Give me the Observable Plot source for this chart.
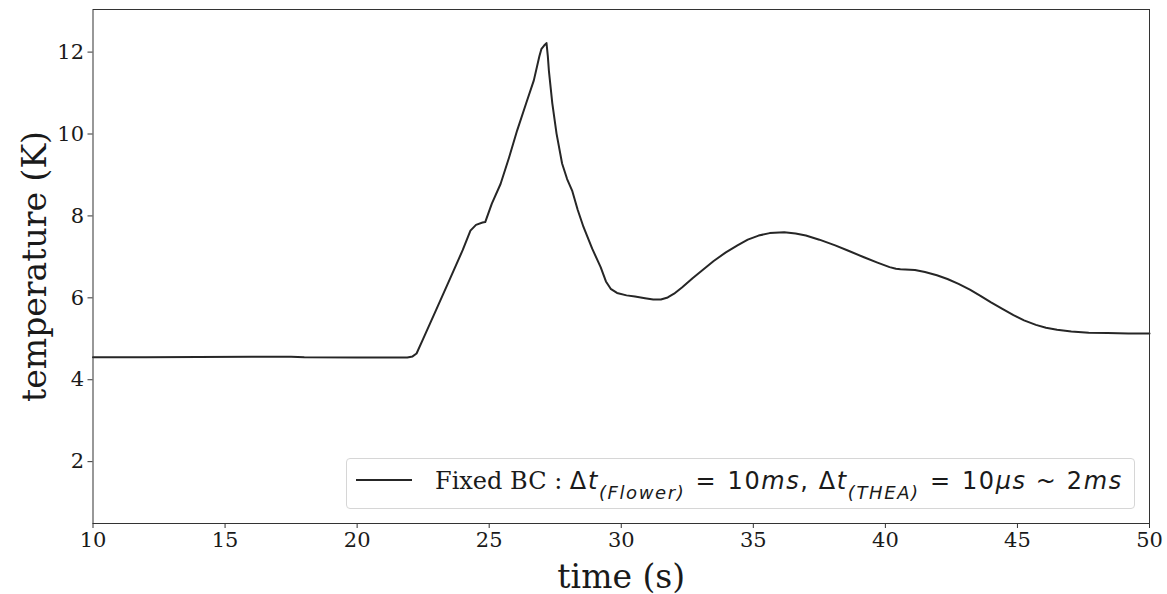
<!DOCTYPE html>
<html>
<head>
<meta charset="utf-8">
<script src="https://cdn.jsdelivr.net/npm/d3@7"></script>
<script src="https://cdn.jsdelivr.net/npm/@observablehq/plot@0.6"></script>
<style>
  html, body { margin: 0; padding: 0; background: #fff; }
  #wrap { position: relative; width: 1167px; height: 594px; }
  #legend {
    position: absolute; left: 346px; top: 458px; width: 789px; height: 51px;
    border: 1px solid #d6d6d6; border-radius: 4px; background: rgba(255,255,255,0.8);
    box-sizing: border-box;
  }
  #legend .swatch { position: absolute; left: 9px; top: 20px; width: 56px; height: 2px; background: #262626; }
  #legend .txt {
    position: absolute; left: 88px; top: 10px; white-space: nowrap; line-height: 1;
    font-size: 24px; color: #1a1a1a; font-family: "DejaVu Serif", serif;
  }
  #legend .m { font-family: "DejaVu Sans", sans-serif; letter-spacing: 1.6px; }
  #legend i { font-style: italic; }
  #legend sub { font-size: 18px; vertical-align: -10px; line-height: 0; }
  #legend .rel { margin: 0 1px; }
</style>
</head>
<body>
<div id="wrap"></div>
<script>
// time (s)
const times = [10, 12, 14, 16, 17.5, 18, 20, 21.9, 22.1, 22.25, 22.5, 23.0, 23.54, 24.0, 24.29, 24.5, 24.75, 24.85,
  25.1, 25.43, 25.75, 26.06, 26.4, 26.69, 26.9, 26.98, 27.08, 27.17, 27.22, 27.26, 27.39, 27.55, 27.76, 27.95,
  28.14, 28.35, 28.57, 28.9, 29.22, 29.42, 29.6, 29.84, 30.2, 30.52, 30.9, 31.21, 31.5, 31.76, 32.0, 32.31, 32.7,
  33.14, 33.5, 33.96, 34.4, 34.79, 35.2, 35.62, 36.17, 36.6, 36.99, 37.5, 38.1, 38.6, 39.19, 39.7, 40.16, 40.4,
  40.57, 41.12, 41.5, 41.95, 42.35, 42.77, 43.2, 43.6, 44.0, 44.43, 44.85, 45.25, 45.7, 46.08, 46.5, 47.04, 47.7,
  48.41, 49.2, 50];
// temperature (K)
const temps = [4.55, 4.55, 4.555, 4.56, 4.56, 4.55, 4.545, 4.545, 4.57, 4.64, 5.0, 5.72, 6.5, 7.17, 7.64, 7.78, 7.84, 7.85,
  8.3, 8.78, 9.42, 10.09, 10.75, 11.31, 11.9, 12.08, 12.16, 12.22, 11.9, 11.55, 10.75, 10.01, 9.28, 8.9,
  8.62, 8.15, 7.73, 7.2, 6.75, 6.4, 6.22, 6.12, 6.06, 6.03, 5.99, 5.96, 5.96, 6.01, 6.1, 6.26, 6.48,
  6.71, 6.9, 7.11, 7.28, 7.42, 7.52, 7.58, 7.6, 7.57, 7.52, 7.42, 7.28, 7.15, 6.99, 6.86, 6.75, 6.71,
  6.7, 6.68, 6.63, 6.55, 6.46, 6.34, 6.2, 6.05, 5.89, 5.73, 5.58, 5.45, 5.34, 5.27, 5.22, 5.18, 5.15,
  5.14, 5.13, 5.13];
const xTicks = [10, 15, 20, 25, 30, 35, 40, 45, 50];
const yTicks = [2, 4, 6, 8, 10, 12];
const xLabel = "time (s)";
const yLabel = "temperature (K)";

const data = times.map((t, i) => ({t, T: temps[i]}));

const plot = Plot.plot({
  width: 1167,
  height: 594,
  marginLeft: 92.5,
  marginRight: 18,
  marginTop: 9,
  marginBottom: 71,
  style: {fontFamily: "DejaVu Serif", fontSize: "21px", color: "#1a1a1a", background: "#fff"},
  x: {domain: [10, 50]},
  y: {domain: [0.49, 13.04]},
  marks: [
    Plot.axisX(xTicks, {tickSize: 5, tickPadding: 4, label: null, stroke: "#333", fontSize: 21}),
    Plot.axisY(yTicks, {tickSize: 5, tickPadding: 4, label: null, stroke: "#333", fontSize: 21}),
    Plot.line(data, {x: "t", y: "T", stroke: "#262626", strokeWidth: 2}),
    Plot.frame({stroke: "#333", strokeWidth: 1}),
    Plot.text([xLabel], {frameAnchor: "bottom", lineAnchor: "bottom", dy: 64, fontSize: 33, fill: "#1a1a1a"}),
    Plot.text([yLabel], {frameAnchor: "left", textAnchor: "middle", lineAnchor: "middle", dx: -57.5, rotate: -90, fontSize: 33, fill: "#1a1a1a"})
  ]
});
const wrap = document.getElementById("wrap");
wrap.appendChild(plot);

const legend = document.createElement("div");
legend.id = "legend";
legend.innerHTML = '<div class="swatch"></div><div class="txt">Fixed BC : <span class="m">Δ<i>t</i><sub><i>(Flower)</i></sub> <span class="rel">=</span> 10<i>ms</i>, Δ<i>t</i><sub><i>(THEA)</i></sub> <span class="rel">=</span> 10<i>μs</i> ~ 2<i>ms</i></span></div>';
wrap.appendChild(legend);
</script>
</body>
</html>
